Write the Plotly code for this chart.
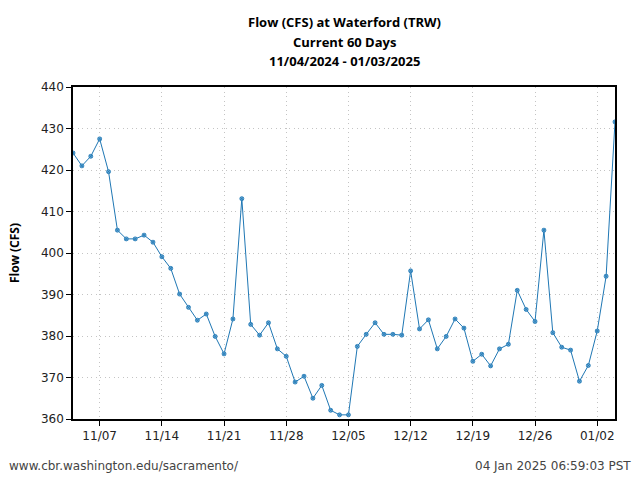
import pandas as pd
import plotly.graph_objs as go

# daily flow values, 11/04/2024 - 01/04/2025
start_date = "2024-11-04"
flow_cfs = [
    424.1, 421.0, 423.3, 427.5, 419.6, 405.5, 403.4, 403.4, 404.3, 402.6,
    399.1, 396.3, 390.1, 386.9, 383.8, 385.3, 379.9, 375.7, 384.1, 413.1,
    382.8, 380.2, 383.2, 376.9, 375.1, 368.9, 370.3, 365.0, 368.1, 362.1,
    361.0, 361.0, 377.5, 380.4, 383.2, 380.4, 380.4, 380.2, 395.7, 381.7,
    383.9, 376.9, 379.9, 384.1, 381.9, 373.9, 375.6, 372.8, 376.9, 378.0,
    391.0, 386.4, 383.5, 405.5, 380.8, 377.3, 376.6, 369.1, 372.9, 381.2,
    394.4, 431.6,
]
dates = pd.date_range(start_date, periods=len(flow_cfs), freq="D")

tick_dates = pd.date_range("2024-11-07", "2025-01-02", freq="7D")
tick_labels = [d.strftime("%m/%d") for d in tick_dates]

title_lines = ["Flow (CFS) at Waterford (TRW)", "Current 60 Days",
               "11/04/2024 - 01/03/2025"]
footer_left = "www.cbr.washington.edu/sacramento/"
footer_right = "04 Jan 2025 06:59:03 PST"

line_color = "#1f77b4"
tick_font = dict(family="DejaVu Sans", size=12, color="#222")

# plot area in pixels
L, R, T, B = 73, 615, 87, 419
pw, ph = R - L, B - T

fig = go.Figure()
fig.add_trace(go.Scatter(
    x=dates, y=flow_cfs, mode="lines+markers",
    line=dict(color=line_color, width=1),
    marker=dict(symbol="circle-x", size=4, color="#6aaad6",
                line=dict(color=line_color, width=0.8)),
    showlegend=False,
))

grid = dict(showgrid=True, gridcolor="#c4c4c4", griddash="1px,3.5px",
            gridwidth=1)
fig.update_xaxes(
    range=[dates[0], dates[-1]], tickvals=tick_dates, ticktext=tick_labels,
    showline=True, linecolor="black", linewidth=1.5, mirror=True,
    ticks="outside", ticklen=5, tickcolor="black", tickfont=tick_font,
    zeroline=False, automargin=False, **grid)
fig.update_yaxes(
    range=[360, 440], dtick=10,
    showline=True, linecolor="black", linewidth=1.5, mirror=True,
    ticks="outside", ticklen=5, tickcolor="black", tickfont=tick_font,
    zeroline=False, automargin=False,
    title=dict(text="<b>Flow (CFS)</b>", standoff=19,
               font=dict(family="Open Sans", size=12, color="black")),
    **grid)

fig.update_layout(
    width=640, height=480,
    margin=dict(l=L, r=640 - R, t=T, b=480 - B, autoexpand=False),
    plot_bgcolor="white", paper_bgcolor="white",
)

# title lines, centred over the plot area
for line, ypx in zip(title_lines, [22, 42, 61]):
    fig.add_annotation(text="<b>" + line + "</b>", xref="paper", yref="paper",
                       x=0.5, y=(B - ypx) / ph, xanchor="center",
                       yanchor="middle", showarrow=False,
                       font=dict(family="Open Sans", size=13, color="black"))

fig.add_annotation(text=footer_left, xref="paper", yref="paper",
                   x=(7 - L) / pw, y=(B - 466) / ph, xanchor="left",
                   yanchor="middle", showarrow=False,
                   font=dict(family="DejaVu Sans", size=12, color="#444"))
fig.add_annotation(text=footer_right, xref="paper", yref="paper",
                   x=(633 - L) / pw, y=(B - 466) / ph, xanchor="right",
                   yanchor="middle", showarrow=False,
                   font=dict(family="DejaVu Sans", size=12, color="#444"))

# drop the browser's default body margin so the figure sits at (0, 0)
fig.write_html("out.html", config={"displayModeBar": False},
               post_script="document.body.style.margin = '0';")
